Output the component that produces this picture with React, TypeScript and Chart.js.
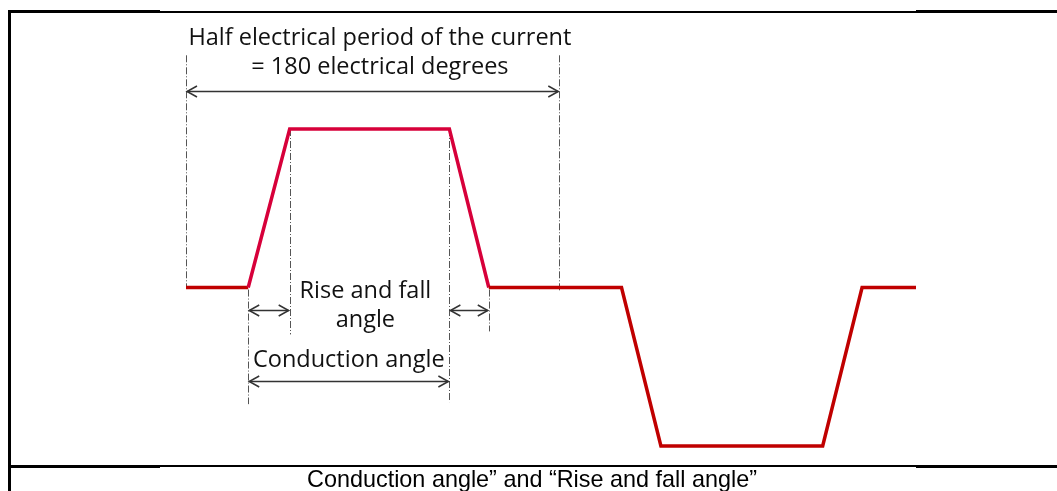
import React, { useEffect, useRef } from "react";
import { Chart, registerables } from "chart.js";

Chart.register(...registerables);

// Waveform: electrical degrees vs normalised current
const angles = [0, 30, 50, 127, 146, 180, 210, 229, 307, 326, 352];
const current = [0, 0, 1, 1, 0, 0, 0, -1, -1, 0, 0];

// Guide lines (x in degrees, from y to y in current units)
const guideX = [0, 30, 50, 127, 146, 180];
const guideTop = [1.465, -0.013, 1, 1, -0.013, 1.465];
const guideBottom = [0, -0.736, -0.296, -0.723, -0.277, -0.03];

// Dimension arrows
const arrowFrom = [0, 30, 127, 30];
const arrowTo = [180, 50, 146, 127];
const arrowY = [1.239, -0.145, -0.145, -0.591];

// Text labels
const labelText = [
  "Half electrical period of the current",
  "= 180 electrical degrees",
  "Rise and fall",
  "angle",
  "Conduction angle",
];
const labelX = [93.5, 93.5, 86.5, 86.5, 78.5];
const labelY = [1.572, 1.39, -0.025, -0.208, -0.459];

const caption = "Conduction angle” and “Rise and fall angle”";

const CRIMSON = "#d7003a";
const DARKRED = "#c00000";

const annotationPlugin = {
  id: "annotations",
  beforeDatasetsDraw(chart: any) {
    const { ctx, scales } = chart;
    const x = scales.x, y = scales.y;
    ctx.save();
    ctx.strokeStyle = "#555";
    ctx.lineWidth = 1;
    ctx.setLineDash([7, 2, 1, 2]);
    guideX.forEach((gx, i) => {
      const px = Math.round(x.getPixelForValue(gx)) + 0.5;
      ctx.beginPath();
      ctx.moveTo(px, y.getPixelForValue(guideTop[i]));
      ctx.lineTo(px, y.getPixelForValue(guideBottom[i]));
      ctx.stroke();
    });
    ctx.restore();
  },
  afterDatasetsDraw(chart: any) {
    const { ctx, scales } = chart;
    const x = scales.x, y = scales.y;
    ctx.save();
    ctx.strokeStyle = "#333";
    ctx.lineWidth = 1.5;
    ctx.setLineDash([]);
    arrowFrom.forEach((f, i) => {
      const x1 = x.getPixelForValue(f);
      const x2 = x.getPixelForValue(arrowTo[i]);
      const py = Math.round(y.getPixelForValue(arrowY[i])) + 0.5;
      ctx.beginPath();
      ctx.moveTo(x1 + 1, py);
      ctx.lineTo(x2 - 1, py);
      ctx.stroke();
      ctx.beginPath();
      ctx.moveTo(x1 + 11, py - 5.5);
      ctx.lineTo(x1 + 1, py);
      ctx.lineTo(x1 + 11, py + 5.5);
      ctx.moveTo(x2 - 11, py - 5.5);
      ctx.lineTo(x2 - 1, py);
      ctx.lineTo(x2 - 11, py + 5.5);
      ctx.stroke();
    });
    ctx.fillStyle = "#111";
    ctx.font = "23.5px 'Open Sans'";
    ctx.textAlign = "center";
    ctx.textBaseline = "middle";
    labelText.forEach((t, i) => {
      ctx.fillText(t, x.getPixelForValue(labelX[i]), y.getPixelForValue(labelY[i]));
    });
    ctx.restore();
  },
  afterDraw(chart: any) {
    const { ctx } = chart;
    ctx.save();
    ctx.fillStyle = "#000";
    // table frame
    ctx.fillRect(8, 10, 3, 481);
    ctx.fillRect(8, 10, 152, 3);
    ctx.fillRect(160, 11, 756, 2);
    ctx.fillRect(916, 10, 141, 3);
    ctx.fillRect(8, 465, 152, 3);
    ctx.fillRect(160, 465, 756, 2);
    ctx.fillRect(916, 465, 141, 3);
    ctx.font = "23.4px 'Liberation Sans', Arial";
    ctx.textAlign = "center";
    ctx.textBaseline = "middle";
    ctx.fillText(caption, 532, 481);
    ctx.restore();
  },
};

export default function App() {
  const ref = useRef<HTMLCanvasElement>(null);
  useEffect(() => {
    if (!ref.current) return;
    const chart = new Chart(ref.current, {
      type: "line",
      data: {
        labels: angles,
        datasets: [
          {
            data: angles.map((a, i) => ({ x: a, y: current[i] })),
            borderColor: DARKRED,
            borderWidth: 3.5,
            pointRadius: 0,
            tension: 0,
            fill: false,
            clip: false as any,
            borderJoinStyle: "miter",
            segment: {
              borderColor: (c: any) =>
                c.p0DataIndex >= 1 && c.p0DataIndex <= 3 ? CRIMSON : DARKRED,
            },
          },
        ],
      },
      options: {
        responsive: false,
        animation: false,
        events: [],
        layout: { padding: { left: 186, right: 141, top: 129, bottom: 45 } },
        plugins: { legend: { display: false }, tooltip: { enabled: false }, title: { display: false } },
        scales: {
          x: { type: "linear", min: 0, max: 352, display: false },
          y: { type: "linear", min: -1, max: 1, display: false },
        },
      },
      plugins: [annotationPlugin],
    });
    return () => chart.destroy();
  }, []);
  return (
    <canvas
      ref={ref}
      width={1057}
      height={491}
      style={{ position: "absolute", left: 0, top: 0, width: 1057, height: 491, background: "#fff" }}
    />
  );
}
